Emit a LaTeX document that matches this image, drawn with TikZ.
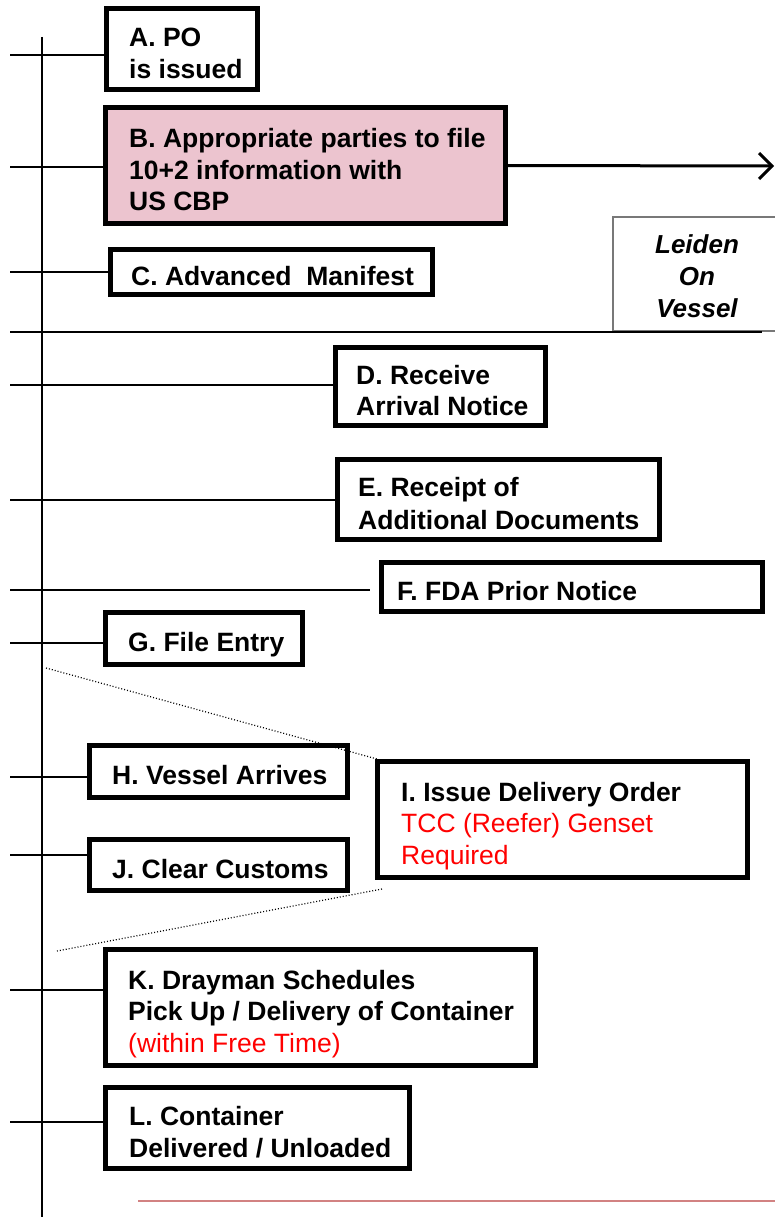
\documentclass[tikz,border=0pt]{standalone}
\usepackage{fontspec}
\setmainfont{Liberation Sans}
\usetikzlibrary{arrows.meta}
\definecolor{pinkfill}{RGB}{236,196,207}
\definecolor{redline}{RGB}{210,130,130}
\definecolor{leidengray}{RGB}{120,120,120}
\definecolor{txtred}{RGB}{255,0,0}
\begin{document}
\begin{tikzpicture}[x=1pt,y=-1pt,
  mybox/.style={draw=black,line width=5pt,inner sep=0pt,rectangle},
  lbl/.style={anchor=west,inner sep=0pt,align=left,
    font=\fontsize{26.5}{31.5}\selectfont\bfseries},
  conn/.style={line width=1.8pt,draw=black},
  dots/.style={line width=1.2pt,dash pattern=on 1pt off 2pt}]
\useasboundingbox (0,0) rectangle (775,1217);

% vertical timeline
\coordinate (vtop) at (42,37);
\coordinate (vbot) at (42,1217);
\draw[line width=2.2pt] (vtop) -- (vbot);

% boxes
\node[mybox,minimum width=151,minimum height=81] (A) at (182,49) {};
\node[mybox,fill=pinkfill,minimum width=400,minimum height=116] (B) at (305.5,165.5) {};
\node[mybox,minimum width=322,minimum height=45] (C) at (271.5,272) {};
\node[mybox,minimum width=210,minimum height=78] (D) at (440.5,386.5) {};
\node[mybox,minimum width=322,minimum height=80] (E) at (498.5,499.5) {};
\node[mybox,minimum width=381,minimum height=49] (F) at (572,587) {};
\node[mybox,minimum width=197,minimum height=52] (G) at (204,638.5) {};
\node[mybox,minimum width=258,minimum height=52] (H) at (218.5,771.5) {};
\node[mybox,minimum width=370,minimum height=116] (I) at (562.5,819.5) {};
\node[mybox,minimum width=258,minimum height=51] (J) at (218.5,865) {};
\node[mybox,minimum width=430,minimum height=116] (K) at (320.5,1007.5) {};
\node[mybox,minimum width=304,minimum height=81] (L) at (257.5,1128) {};

% texts
\node[lbl] (tA) at (129,56) {\strut A. PO\\\strut is issued};
\node[lbl] (tB) at (129,173) {\strut B. Appropriate parties to file\\\strut 10+2 information with\\\strut US CBP};
\node[lbl] (tC) at (131,279) {\strut C. Advanced\ \ Manifest};
\node[lbl] (tD) at (356,393.5) {\strut D. Receive\\\strut Arrival Notice};
\node[lbl,font=\fontsize{26.5}{32.5}\selectfont\bfseries] (tE) at (358,506.5) {\strut E. Receipt of\\\strut Additional Documents};
\node[lbl] (tF) at (397,594) {\strut F. FDA Prior Notice};
\node[lbl] (tG) at (128,645.5) {\strut G. File Entry};
\node[lbl] (tH) at (112,778.5) {\strut H. Vessel Arrives};
\node[lbl] (tI) at (401,826.5) {\strut I. Issue Delivery Order\\\strut\textcolor{txtred}{\mdseries TCC (Reefer) Genset}\\\strut\textcolor{txtred}{\mdseries Required}};
\node[lbl] (tJ) at (112,872) {\strut J. Clear Customs};
\node[lbl] (tK) at (128,1014.5) {\strut K. Drayman Schedules\\\strut Pick Up / Delivery of Container\\\strut\textcolor{txtred}{\mdseries (within Free Time)}};
\node[lbl] (tL) at (129,1135) {\strut L. Container\\\strut Delivered / Unloaded};

% Leiden box
\node[draw=leidengray,line width=1.5pt,inner sep=0pt,minimum width=170,minimum height=114] (LV) at (698,274) {};
\node[inner sep=0pt,align=center,font=\fontsize{26}{32}\selectfont\bfseries\itshape] (tLV) at (697,279)
  {\strut Leiden\\\strut On\\\strut Vessel};

% connectors from the timeline
\foreach \n/\yy in {A/55,B/167,C/272,D/385,E/500,G/643,H/777,J/855,K/990,L/1122}{
  \coordinate (s\n) at (10,\yy);
  \draw[conn] (s\n) -- (s\n -| \n.west);
}
\coordinate (sF) at (10,590);
\coordinate (eF) at (370,590);
\draw[conn] (sF) -- (eF);

% separator line
\coordinate (sep1) at (10,332);
\coordinate (sep2) at (762,332);
\draw[line width=2pt] (sep1) -- (sep2);

% arrow from B
\coordinate (arrEnd) at (772,166);
\coordinate (arrW1) at (759,153);
\coordinate (arrW2) at (759,179);
\draw[line width=3pt] (B.east) -- (arrEnd);
\draw[line width=3pt,line join=miter] (arrW1) -- (arrEnd) -- (arrW2);

% dotted lines
\coordinate (d1a) at (46,668);
\coordinate (d1b) at (377,759);
\coordinate (d2a) at (382,889);
\coordinate (d2b) at (57,951);
\draw[dots] (d1a) -- (d1b);
\draw[dots] (d2a) -- (d2b);

% bottom red line
\coordinate (r1) at (138,1201);
\coordinate (r2) at (775,1201);
\draw[redline,line width=1.5pt] (r1) -- (r2);
\end{tikzpicture}
\end{document}
